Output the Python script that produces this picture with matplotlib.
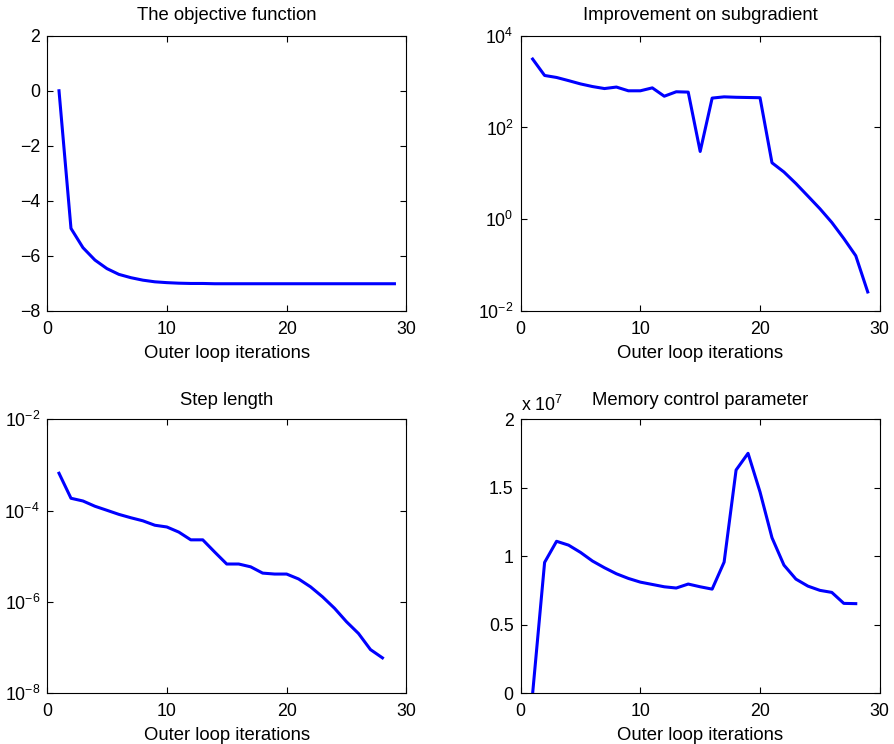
import numpy as np
import matplotlib.pyplot as plt
from matplotlib.ticker import NullLocator

plt.rcParams['font.family'] = ['Liberation Sans', 'DejaVu Sans']
plt.rcParams['font.size'] = 12.8
plt.rcParams['mathtext.fontset'] = 'custom'
plt.rcParams['mathtext.rm'] = 'Liberation Sans'

# objective function
obj_x = list(range(1, 30))
obj_y = [0.0, -5.0, -5.7, -6.15, -6.46, -6.67, -6.79, -6.88, -6.94, -6.97,
         -6.99, -7.0, -7.0, -7.01, -7.01, -7.01, -7.01, -7.01, -7.01, -7.01,
         -7.01, -7.01, -7.01, -7.01, -7.01, -7.01, -7.01, -7.01, -7.01]

# improvement on subgradient
imp_x = list(range(1, 30))
imp_y = [3100, 1360, 1230, 1050, 890, 780, 705, 760, 630, 630,
         730, 480, 600, 590, 30, 437, 465, 455, 450, 445,
         17, 10.7, 6.0, 3.2, 1.7, 0.85, 0.38, 0.16, 0.026]

# step length
step_x = list(range(1, 29))
step_y = [6.6e-4, 1.87e-4, 1.63e-4, 1.25e-4, 1.02e-4, 8.3e-5, 7.0e-5, 6.0e-5,
          4.8e-5, 4.4e-5, 3.4e-5, 2.3e-5, 2.3e-5, 1.24e-5, 6.8e-6, 6.8e-6,
          5.9e-6, 4.3e-6, 4.1e-6, 4.1e-6, 3.2e-6, 2.15e-6, 1.3e-6, 7.3e-7,
          3.7e-7, 2.05e-7, 9.1e-8, 6.0e-8]

# memory control parameter (units of 1e7)
mem_x = list(range(1, 29))
mem_y = [0.0, 0.956, 1.11, 1.082, 1.029, 0.966, 0.917, 0.873, 0.839, 0.812,
         0.795, 0.778, 0.769, 0.798, 0.778, 0.761, 0.958, 1.63, 1.752, 1.47,
         1.136, 0.936, 0.834, 0.783, 0.752, 0.737, 0.657, 0.655]

fig = plt.figure(figsize=(8.94, 7.44), dpi=100)

ax1 = fig.add_axes([0.0526, 0.582, 0.402, 0.370])
ax2 = fig.add_axes([0.5824, 0.582, 0.4016, 0.370])
ax3 = fig.add_axes([0.0526, 0.068, 0.402, 0.3684])
ax4 = fig.add_axes([0.5824, 0.068, 0.4016, 0.3684])

lc = (0, 0, 1)
lw = 2.2
tfs = 13.3

ax1.plot(obj_x, obj_y, color=lc, lw=lw)
ax1.set_ylim(-8, 2)
ax1.set_yticks([-8, -6, -4, -2, 0, 2])
ax1.set_yticklabels(['\u22128', '\u22126', '\u22124', '\u22122', '0', '2'])
ax1.set_title('The objective function', fontsize=tfs, pad=11)

ax2.semilogy(imp_x, imp_y, color=lc, lw=lw)
ax2.set_ylim(1e-2, 1e4)
ax2.set_yticks([1e-2, 1e0, 1e2, 1e4])
ax2.set_title('Improvement on subgradient', fontsize=tfs, pad=11)

ax3.semilogy(step_x, step_y, color=lc, lw=lw)
ax3.set_ylim(1e-8, 1e-2)
ax3.set_yticks([1e-8, 1e-6, 1e-4, 1e-2])
ax3.set_title('Step length', fontsize=tfs, pad=10)

ax4.plot(mem_x, mem_y, color=lc, lw=lw)
ax4.set_ylim(0, 2)
ax4.set_yticks([0, 0.5, 1, 1.5, 2])
ax4.set_yticklabels(['0', '0.5', '1', '1.5', '2'])
ax4.set_title('Memory control parameter', fontsize=tfs, pad=10)
ax4.text(0.0, 1.03, r'x 10$^{7}$', transform=ax4.transAxes, fontsize=12.8,
         ha='left', va='baseline')

for ax in (ax1, ax2, ax3, ax4):
    ax.set_xlim(0, 30)
    ax.set_xticks([0, 10, 20, 30])
    ax.set_xlabel('Outer loop iterations', fontsize=tfs, labelpad=5)
    ax.yaxis.set_minor_locator(NullLocator())
    ax.tick_params(direction='in', top=True, right=True, length=4, width=0.8)
    ax.tick_params(axis='x', pad=7)
    ax.tick_params(axis='y', pad=5)
    for s in ax.spines.values():
        s.set_linewidth(0.8)

fig.savefig('out.png', dpi=100)
